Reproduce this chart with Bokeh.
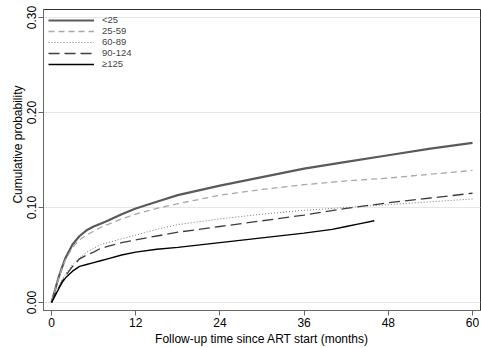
from bokeh.plotting import figure
from bokeh.models import Range1d, FixedTicker, Legend, LegendItem, Title
from bokeh.embed import file_html
from bokeh.resources import INLINE

# Data (cumulative probability by months since ART start)
months = [0, 0.5, 1, 1.5, 2, 3, 4, 5, 6, 7, 8, 10, 12, 15, 18, 24, 30, 36, 42, 48, 54, 60]
cd4_lt25 = [0, 0.013, 0.026, 0.037, 0.047, 0.061, 0.070, 0.076, 0.080, 0.083, 0.086, 0.093, 0.099, 0.106, 0.113, 0.123, 0.132, 0.141, 0.148, 0.155, 0.162, 0.168]
cd4_25_59 = [0, 0.013, 0.025, 0.036, 0.045, 0.058, 0.066, 0.071, 0.075, 0.079, 0.082, 0.088, 0.093, 0.099, 0.104, 0.113, 0.119, 0.124, 0.128, 0.131, 0.135, 0.139]
cd4_60_89 = [0, 0.008, 0.016, 0.024, 0.030, 0.040, 0.047, 0.053, 0.057, 0.061, 0.063, 0.067, 0.071, 0.077, 0.082, 0.088, 0.093, 0.097, 0.100, 0.103, 0.106, 0.109]
cd4_90_124 = [0, 0.008, 0.015, 0.022, 0.028, 0.038, 0.046, 0.050, 0.053, 0.057, 0.059, 0.063, 0.066, 0.070, 0.074, 0.080, 0.086, 0.092, 0.099, 0.105, 0.110, 0.115]
months_ge125 = [0, 0.5, 1, 1.5, 2, 3, 4, 5, 6, 7, 8, 10, 12, 15, 18, 24, 30, 36, 40, 42, 44, 46]
cd4_ge125 = [0, 0.007, 0.014, 0.021, 0.026, 0.033, 0.038, 0.040, 0.042, 0.044, 0.046, 0.050, 0.053, 0.056, 0.058, 0.063, 0.068, 0.073, 0.077, 0.080, 0.083, 0.086]

x_ticks = [0, 12, 24, 36, 48, 60]
y_ticks = [0.0, 0.1, 0.2, 0.3]
y_tick_labels = ["0.00", "0.10", "0.20", "0.30"]
legend_labels = ["<25", "25-59", "60-89", "90-124", "\u2265125"]

FONT = "Liberation Sans"

p = figure(width=481, height=348, output_backend="svg", toolbar_location=None,
           x_range=Range1d(-1.14, 61.14), y_range=Range1d(-0.0084, 0.3084),
           min_border_left=43, min_border_right=1, min_border_top=9, min_border_bottom=38)
p.background_fill_color = "white"
p.border_fill_color = "white"
p.outline_line_color = "#333333"
p.outline_line_width = 1

# grid
p.xgrid.visible = False
p.ygrid.ticker = FixedTicker(ticks=y_ticks)
p.ygrid.grid_line_color = "#e6e6e6"
p.ygrid.grid_line_width = 1

# axes
for ax in (p.xaxis[0], p.yaxis[0]):
    ax.axis_line_color = "#666666"
    ax.major_tick_line_color = "#666666"
    ax.major_tick_out = 5
    ax.major_tick_in = 0
    ax.minor_tick_line_color = None
    ax.major_label_text_font = FONT
    ax.major_label_text_font_size = "12px"
    ax.major_label_text_color = "#000000"
    ax.axis_label_text_font = FONT
    ax.axis_label_text_font_size = "12px"
    ax.axis_label_text_font_style = "normal"
    ax.axis_label_text_color = "#000000"
    ax.major_label_standoff = 2

p.xaxis.ticker = FixedTicker(ticks=x_ticks)
p.xaxis.axis_label = "Follow-up time since ART start (months)"
p.xaxis.axis_label_standoff = 2

p.yaxis.ticker = FixedTicker(ticks=y_ticks)
p.yaxis.major_label_overrides = {t: l for t, l in zip(y_ticks, y_tick_labels)}
p.yaxis.major_label_orientation = "vertical"

p.add_layout(Title(text="Cumulative probability", align="right", offset=76,
                   text_font=FONT, text_font_size="12px", text_font_style="normal",
                   text_color="#000000", standoff=0), "left")

r1 = p.line(months, cd4_lt25, line_color="#5a5a5a", line_width=2.2)
r2 = p.line(months, cd4_25_59, line_color="#a8a8a8", line_width=1.3, line_dash="6 4")
r3 = p.line(months, cd4_60_89, line_color="#777777", line_width=1, line_dash="1 2")
r4 = p.line(months, cd4_90_124, line_color="#3c3c3c", line_width=1.3, line_dash="11 5")
r5 = p.line(months_ge125, cd4_ge125, line_color="#000000", line_width=1.4)

legend = Legend(items=[LegendItem(label=l, renderers=[r]) for l, r in zip(legend_labels, [r1, r2, r3, r4, r5])],
                location="top_left", margin=5, padding=5, spacing=0,
                glyph_width=46, glyph_height=10, label_height=10, label_standoff=8,
                label_text_font=FONT, label_text_font_size="9.5px",
                border_line_color=None, background_fill_alpha=0)
p.add_layout(legend)

open("out.html", "w").write(file_html(p, INLINE))
